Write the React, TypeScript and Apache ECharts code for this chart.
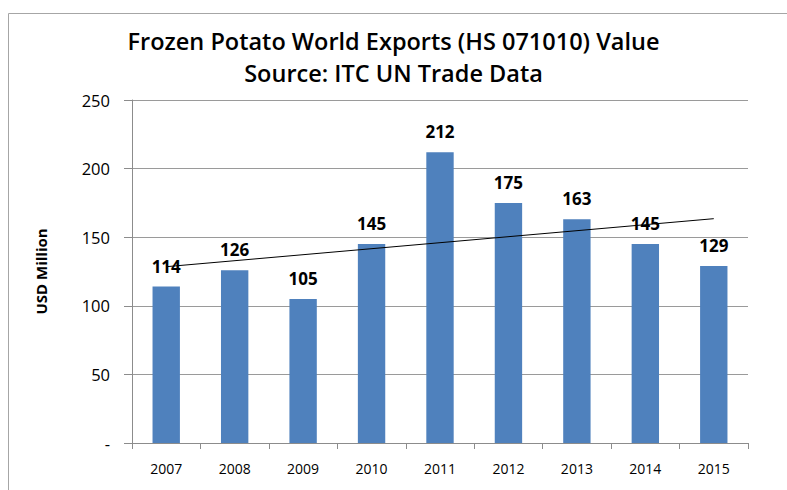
import React, { useEffect, useRef } from "react";
import * as echarts from "echarts";

const years = ["2007", "2008", "2009", "2010", "2011", "2012", "2013", "2014", "2015"];
const exportValues = [114, 126, 105, 145, 212, 175, 163, 145, 129];
// Linear trendline end points (first and last category)
const trendStart = 128.5;
const trendEnd = 163.5;
const yTicks = [0, 50, 100, 150, 200, 250];

export default function App() {
  const ref = useRef<HTMLDivElement>(null);
  useEffect(() => {
    document.body.style.margin = "0";
    if (!ref.current) return;
    const chart = echarts.init(ref.current, null, { renderer: "svg" });
    const trendData = years.map((_, i) =>
      i === 0 ? trendStart : i === years.length - 1 ? trendEnd : null
    );
    const font = "'Open Sans', Calibri, sans-serif";
    chart.setOption({
      animation: false,
      backgroundColor: "#ffffff",
      graphic: [
        {
          type: "rect",
          shape: { x: 8.5, y: 13.5, width: 800, height: 500 },
          style: { fill: "none", stroke: "#a6a6a6", lineWidth: 1 },
          silent: true,
        },
        {
          type: "text",
          left: "center",
          top: 29,
          style: {
            text: "Frozen Potato World Exports (HS 071010) Value",
            font: `600 23.5px ${font}`,
            fill: "#000",
          },
        },
        {
          type: "text",
          left: "center",
          top: 61,
          style: {
            text: "Source: ITC UN Trade Data",
            font: `600 23.5px ${font}`,
            fill: "#000",
          },
        },
      ],
      grid: { left: 132, right: 39, top: 100, bottom: 47 },
      xAxis: {
        type: "category",
        data: years,
        boundaryGap: true,
        axisLine: { lineStyle: { color: "#8c8c8c" } },
        axisTick: { show: true, alignWithLabel: false, length: 6, lineStyle: { color: "#8c8c8c" } },
        axisLabel: { color: "#000", fontFamily: font, fontSize: 14, margin: 18 },
      },
      yAxis: {
        type: "value",
        min: 0,
        max: 250,
        interval: 50,
        name: "USD Million",
        nameLocation: "middle",
        nameGap: 84,
        nameTextStyle: { color: "#000", fontFamily: font, fontSize: 15, fontWeight: "bold" },
        axisLine: { show: true, lineStyle: { color: "#8c8c8c" } },
        axisTick: { show: true, length: 8, lineStyle: { color: "#8c8c8c" } },
        axisLabel: {
          color: "#000",
          fontFamily: font,
          fontSize: 16.5,
          margin: 22,
          formatter: (v: number) => (v === 0 ? "-" : yTicks.includes(v) ? String(v) : ""),
        },
        splitLine: { show: true, lineStyle: { color: "#9a9a9a", width: 1 } },
      },
      series: [
        {
          type: "bar",
          data: exportValues,
          barWidth: "40%",
          itemStyle: { color: "#4f81bd" },
          label: {
            show: true,
            position: "top",
            distance: 12,
            color: "#000",
            fontFamily: font,
            fontSize: 17,
            fontWeight: "bold",
          },
        },
        {
          type: "line",
          data: trendData,
          connectNulls: true,
          symbol: "none",
          lineStyle: { color: "#000", width: 1 },
          z: 5,
        },
      ],
    });
    return () => chart.dispose();
  }, []);
  return <div ref={ref} style={{ width: 787, height: 490 }} />;
}
